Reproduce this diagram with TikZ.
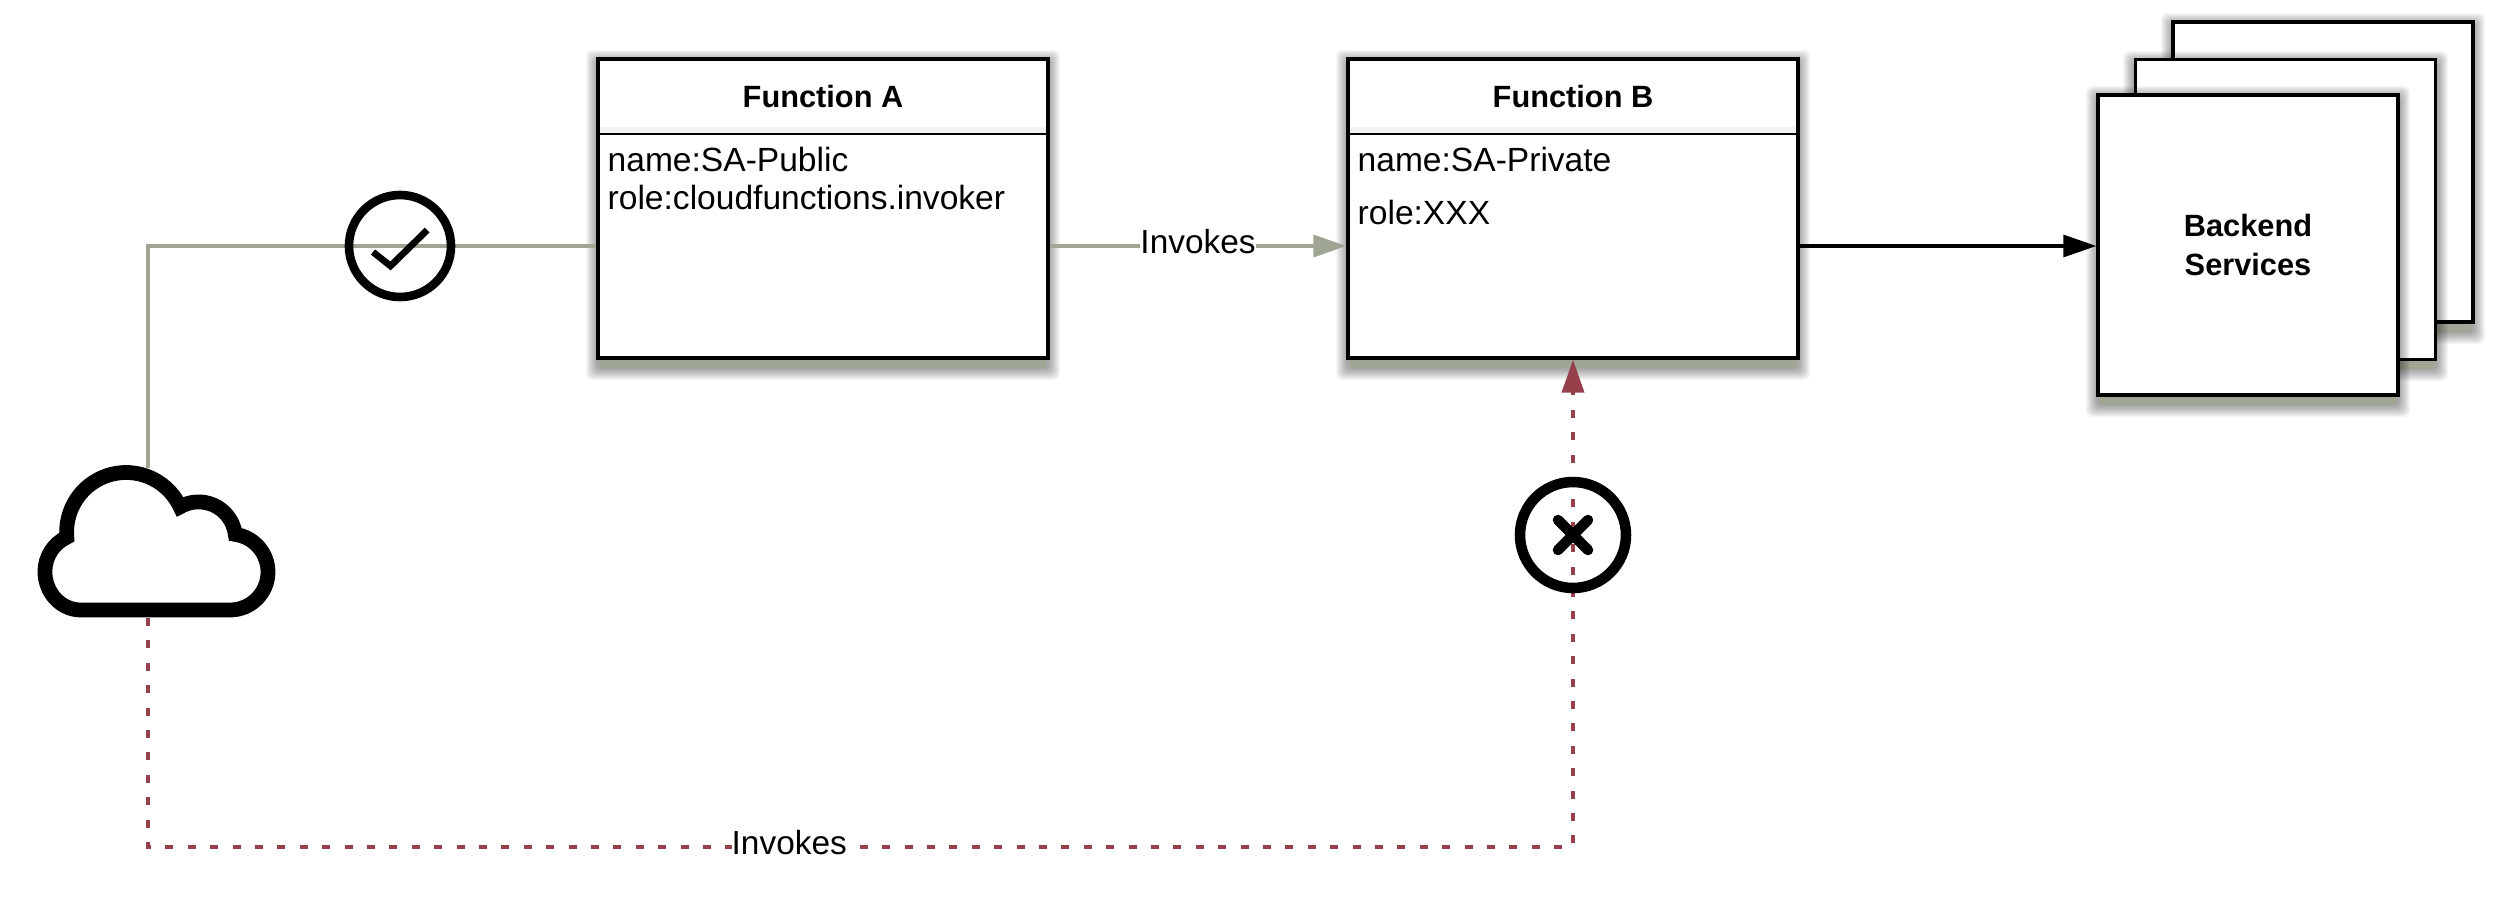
\documentclass[tikz,border=0pt]{standalone}
\usepackage{fontspec}
\setmainfont{Liberation Sans}
\usetikzlibrary{arrows.meta}
\definecolor{allowgray}{HTML}{9FA693}
\definecolor{denyred}{HTML}{96404C}
\tikzset{
	funcbox/.style={draw,fill=white,line width=0.95pt,minimum width=4.5cm,minimum height=2.99cm,inner sep=0pt},
	stackbox/.style={draw,fill=white,line width=0.95pt,minimum width=3cm,minimum height=3cm,inner sep=0pt,align=center,font=\fontsize{8.75}{11.2}\selectfont\bfseries},
	titletext/.style={inner sep=0pt,font=\fontsize{8.75}{10.5}\selectfont\bfseries},
	bodytext/.style={inner sep=0pt,anchor=base west,font=\fontsize{9.55}{11.4}\selectfont},
	edgelabel/.style={fill=white,inner xsep=0pt,inner ysep=1pt,yshift=0.04cm,font=\fontsize{9.5}{11.4}\selectfont},
	allowline/.style={allowgray,line width=1pt},
	denyline/.style={denyred,line width=1.1pt,dash pattern=on 0.08cm off 0.144cm},
	blocktip/.style={-{Triangle[length=0.33cm,width=0.22cm]}},
	gatering/.style={circle,draw,inner sep=0pt}
}
\newcommand{\softshadow}[4]{
	\foreach \spread in {1,...,12}
	\fill[black,opacity=0.035,rounded corners=0.06cm] (#1-\spread*0.01,#2-0.10-\spread*0.01) rectangle (#3+\spread*0.01,#4-0.03+\spread*0.01);
	\fill[allowgray] (#1+0.02,#2-0.10) rectangle (#3-0.02,#2);
}
\begin{document}
\begin{tikzpicture}
	\useasboundingbox (0,0) rectangle (25.1,9.05);
	
	\softshadow{5.98}{5.47}{10.48}{8.46}
	\softshadow{13.48}{5.47}{17.98}{8.46}
	\node[funcbox] (funca) at (8.23,6.965) {};
	\node[funcbox] (funcb) at (15.73,6.965) {};
	
	\foreach \f/\t in {funca/Function A,funcb/Function B} {
		\fill[black,opacity=0.05] (\f.west |- 0,7.71) rectangle (\f.east |- 0,7.78);
		\draw[line width=0.8pt] (\f.west |- 0,7.71) -- (\f.east |- 0,7.71);
		\node[titletext] (\f title) at (\f.center |- 0,8.08) {\t};
	}
	
	\node[bodytext] (funcaname) at (6.07,7.34) {name:SA-Public};
	\node[bodytext] (funcarole) at (6.07,6.96) {role:cloudfunctions.invoker};
	\node[bodytext] (funcbname) at (13.57,7.34) {name:SA-Private};
	\node[bodytext] (funcbrole) at (13.57,6.81) {role:XXX};
	
	\softshadow{21.73}{5.83}{24.73}{8.83}
	\node[stackbox] (backendrear) at (23.23,7.33) {};
	\softshadow{21.35}{5.46}{24.36}{8.45}
	\node[stackbox] (backendmid) at (22.855,6.955) {};
	\softshadow{20.98}{5.10}{23.98}{8.10}
	\node[stackbox] (backend) at (22.48,6.60) {Backend\\Services};
	
	\coordinate (gateline) at (4.0,6.59);
	\coordinate (cloudtop) at (1.48,4.37);
	\coordinate (cloudbase) at (1.48,2.87);
	\coordinate (denycorner) at (1.48,0.58);
	\coordinate (denyturn) at (15.73,0.58);
	
	\draw[allowline] (cloudtop) |- (funca.west |- gateline);
	\draw[allowline,blocktip] (funca.east |- gateline) -- node[edgelabel,text=black] (allowlabel) {Invokes} (funcb.west |- gateline);
	\draw[line width=0.9pt,blocktip] (funcb.east |- gateline) -- (backend.west |- gateline);
	\draw[denyline,blocktip] (cloudbase) -- (denycorner) -- node[edgelabel,text=black,pos=0.45] (denylabel) {Invokes} (denyturn) -- (funcb.south);
	
	\node[gatering,line width=2.45pt,minimum size=1.02cm] (allowgate) at (gateline) {};
	\draw[line width=1.9pt] (3.73,6.53) -- (3.905,6.39) -- (4.272,6.75);
	\node[gatering,line width=3pt,minimum size=1.06cm] (denygate) at (15.73,3.70) {};
	\draw[line width=3pt,line cap=round] (15.58,3.55) -- (15.88,3.85);
	\draw[line width=3pt,line cap=round] (15.58,3.85) -- (15.88,3.55);
	
	\draw[line width=4.2pt,fill=white] (0.81,2.95) -- (2.30,2.95)
		arc[start angle=-90,end angle=82,radius=0.38]
		arc[start angle=7,end angle=120,radius=0.37]
		arc[start angle=25,end angle=185,radius=0.595]
		arc[start angle=115,end angle=180,radius=0.38] to[out=-90,in=180] cycle;
\end{tikzpicture}
\end{document}
